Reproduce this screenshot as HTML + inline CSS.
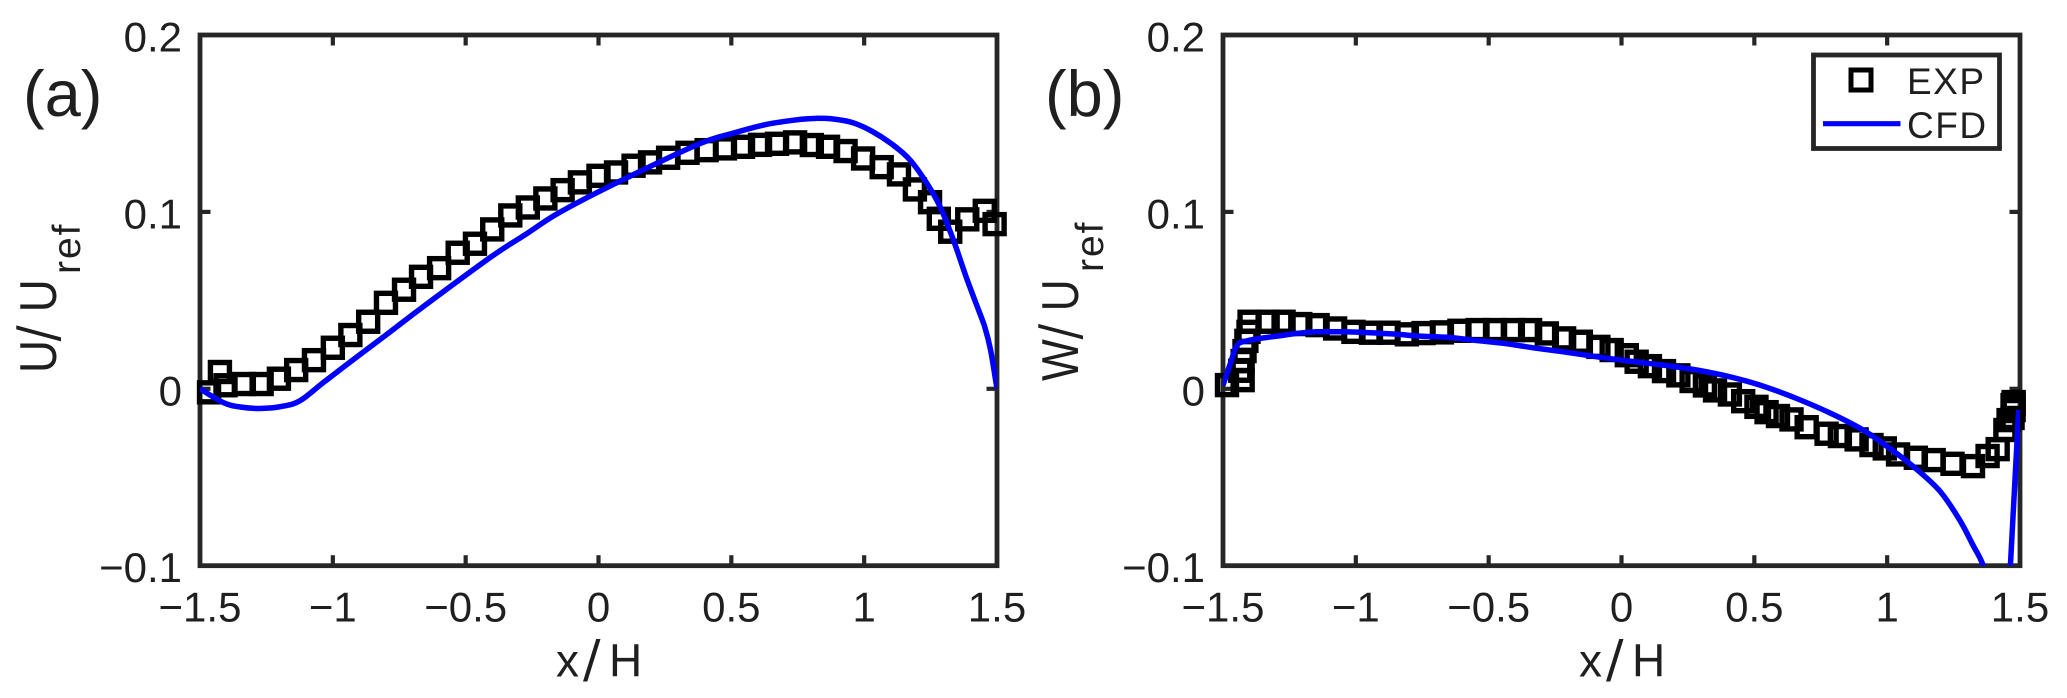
<!DOCTYPE html>
<html lang="en">
<head>
<meta charset="utf-8">
<title>U/Uref and W/Uref profiles: EXP vs CFD</title>
<style>
  html, body { margin: 0; padding: 0; background: #fff; }
  svg { display: block; }
  text { font-family: "Liberation Sans", Arial, sans-serif; fill: #1f1f1f; }
  .slash { font-family: "DejaVu Sans", sans-serif; }
</style>
</head>
<body>
<svg id="chart" xmlns="http://www.w3.org/2000/svg" width="2067" height="698" viewBox="0 0 2067 698">
  <rect x="0" y="0" width="2067" height="698" fill="#fff"/>
  <defs>
    <clipPath id="clip-a"><rect x="200" y="35" width="797" height="530.7"/></clipPath>
    <clipPath id="clip-b"><rect x="1223" y="35" width="797" height="530.7"/></clipPath>
  </defs>

  <text x="23" y="116" font-size="65">(a)</text>
  <text x="1045" y="116" font-size="65">(b)</text>

  <text y="676.5" font-size="46"><tspan x="556">x</tspan><tspan class="slash" x="583" font-size="52">/</tspan><tspan x="609">H</tspan></text>
  <text y="676.5" font-size="46"><tspan x="1579">x</tspan><tspan class="slash" x="1606" font-size="52">/</tspan><tspan x="1632">H</tspan></text>

  <g>
    <text transform="translate(56,373) rotate(-90) scale(.88,1)" font-size="52" y="0"><tspan x="0">U</tspan><tspan class="slash" x="36" font-size="54">/</tspan><tspan x="69">U</tspan></text>
    <text transform="translate(80,274) rotate(-90)" font-size="39" letter-spacing="2" x="0" y="0">ref</text>
  </g>
  <g>
    <text transform="translate(1078,381) rotate(-90) scale(.85,1)" font-size="52" y="0"><tspan x="0">W</tspan><tspan class="slash" x="49" font-size="54">/</tspan><tspan x="82">U</tspan></text>
    <text transform="translate(1103,272) rotate(-90)" font-size="39" letter-spacing="2" x="0" y="0">ref</text>
  </g>

  <g id="panel-a"></g>
  <g id="panel-b"></g>

  <g>
    <rect x="1813.5" y="55" width="186" height="93.5" fill="#fff" stroke="#262626" stroke-width="4.8"/>
    <rect x="1851" y="70" width="20" height="20" fill="none" stroke="#000" stroke-width="5"/>
    <line x1="1823" y1="123.7" x2="1900.5" y2="123.7" stroke="#0000ff" stroke-width="5.2"/>
    <text x="1907" y="94" font-size="37" letter-spacing="1.5">EXP</text>
    <text x="1907" y="138" font-size="37" letter-spacing="1.5">CFD</text>
  </g>
</svg>

<script>
var xTicks = [-1.5, -1, -0.5, 0, 0.5, 1, 1.5];
var xTickLabels = ["\u22121.5", "\u22121", "\u22120.5", "0", "0.5", "1", "1.5"];
var yTicks = [-0.1, 0, 0.1, 0.2];
var yTickLabels = ["\u22120.1", "0", "0.1", "0.2"];

var aExpX = [-1.466,-1.425,-1.404,-1.335,-1.268,-1.203,-1.138,-1.071,-1.0,-0.934,-0.867,-0.8,-0.732,-0.668,-0.6,-0.53,-0.465,-0.4,-0.332,-0.266,-0.2,-0.135,-0.07,0,0.066,0.132,0.194,0.262,0.335,0.407,0.476,0.544,0.608,0.672,0.74,0.803,0.864,0.93,0.996,1.066,1.131,1.191,1.248,1.281,1.324,1.388,1.454,1.491];
var aExpU = [-0.002,0.0095,0.002,0.0027,0.0027,0.0057,0.0106,0.0162,0.0232,0.0304,0.0379,0.0486,0.056,0.0633,0.0682,0.0769,0.082,0.0901,0.098,0.1025,0.1076,0.1123,0.1167,0.1204,0.1223,0.1261,0.128,0.1306,0.1334,0.1349,0.1359,0.1368,0.1379,0.1385,0.1393,0.1378,0.1368,0.1344,0.1302,0.1253,0.1212,0.1127,0.1055,0.0961,0.0888,0.0958,0.1006,0.0931];
var aCfdX = [-1.5,-1.412,-1.348,-1.266,-1.186,-1.122,-1.036,-0.909,-0.784,-0.66,-0.404,-0.278,-0.152,0.05,0.369,0.507,0.634,0.759,0.822,0.883,0.958,1.033,1.109,1.173,1.236,1.286,1.336,1.386,1.442,1.455,1.476,1.5];
var aCfdU = [0,-0.0078,-0.0103,-0.0111,-0.0098,-0.0066,0.0035,0.0181,0.0322,0.0464,0.0746,0.0869,0.0992,0.1151,0.1378,0.1445,0.1495,0.1523,0.1529,0.1525,0.1504,0.1453,0.1378,0.1293,0.1161,0.1029,0.0841,0.0624,0.04,0.0345,0.0219,0];

var bExpX = [-1.485,-1.426,-1.435,-1.426,-1.419,-1.412,-1.404,-1.4,-1.332,-1.272,-1.209,-1.144,-1.078,-1.009,-0.943,-0.877,-0.808,-0.745,-0.676,-0.61,-0.542,-0.476,-0.409,-0.344,-0.281,-0.216,-0.153,-0.087,-0.037,0.02,0.057,0.107,0.16,0.214,0.264,0.314,0.352,0.408,0.458,0.508,0.546,0.589,0.64,0.697,0.772,0.822,0.885,0.941,0.991,1.041,1.108,1.175,1.246,1.323,1.378,1.416,1.445,1.457,1.472,1.476,1.476,1.476,1.472];
var bExpW = [0.0021,0.0049,0.0102,0.0157,0.0213,0.0271,0.0322,0.0379,0.0379,0.0379,0.0366,0.036,0.0341,0.0322,0.0317,0.0317,0.0308,0.0315,0.0319,0.0328,0.0332,0.0332,0.0332,0.0332,0.0313,0.0285,0.0266,0.0237,0.0219,0.019,0.0153,0.0128,0.01,0.0076,0.0044,0.0019,-0.0009,-0.0032,-0.007,-0.0102,-0.0132,-0.0154,-0.0173,-0.0217,-0.0254,-0.0267,-0.0286,-0.0318,-0.0337,-0.0371,-0.039,-0.0403,-0.0424,-0.0437,-0.038,-0.0341,-0.0233,-0.0177,-0.0092,-0.0085,-0.0075,-0.012,-0.0165];
var bCfdX = [-1.5,-1.472,-1.447,-1.41,-1.36,-1.297,-1.221,-1.146,-1.046,-0.946,-0.845,-0.758,-0.657,-0.557,-0.445,-0.332,-0.219,-0.093,0.026,0.157,0.283,0.408,0.533,0.659,0.784,0.909,1.01,1.11,1.198,1.273,1.323,1.361,1.4,1.44,1.464,1.495];
var bCfdW = [0.002,0.0144,0.0247,0.0271,0.0285,0.0298,0.0313,0.0322,0.0322,0.0317,0.0308,0.0298,0.0291,0.0275,0.0257,0.0232,0.0209,0.0181,0.0157,0.0134,0.0106,0.0068,0.0015,-0.0055,-0.0136,-0.0233,-0.0337,-0.0454,-0.0578,-0.0742,-0.0884,-0.0997,-0.12,-0.17,-0.1,-0.012];

var SVG_NS = "http://www.w3.org/2000/svg";
var AXIS_COLOR = "#262626";

function makeEl(tag, attrs, parent) {
  var el = document.createElementNS(SVG_NS, tag);
  Object.keys(attrs).forEach(function (k) { el.setAttribute(k, attrs[k]); });
  parent.appendChild(el);
  return el;
}

function smoothPath(px, py) {
  var d = "M" + px[0].toFixed(1) + " " + py[0].toFixed(1);
  for (var i = 0; i < px.length - 1; i++) {
    var a = Math.max(i - 1, 0), b = Math.min(i + 2, px.length - 1);
    var c1x = px[i] + (px[i + 1] - px[a]) / 6, c1y = py[i] + (py[i + 1] - py[a]) / 6;
    var c2x = px[i + 1] - (px[b] - px[i]) / 6, c2y = py[i + 1] - (py[b] - py[i]) / 6;
    d += "C" + c1x.toFixed(1) + " " + c1y.toFixed(1) + " " + c2x.toFixed(1) + " " + c2y.toFixed(1) + " " + px[i + 1].toFixed(1) + " " + py[i + 1].toFixed(1);
  }
  return d;
}

function drawPanel(groupId, left, right, clipId, expX, expY, cfdX, cfdY, yLabelAnchor) {
  var g = document.getElementById(groupId);
  var top = 35, bottom = 565.7;
  function sx(v) { return left + (v + 1.5) / 3 * (right - left); }
  function sy(v) { return bottom - (v + 0.1) / 0.3 * (bottom - top); }

  var frame = makeEl("rect", { x: left, y: top, width: right - left, height: bottom - top, fill: "none", stroke: AXIS_COLOR, "stroke-width": 4.8 }, g);
  
  

  xTicks.forEach(function (t, i) {
    var x = sx(t);
    if (i > 0 && i < xTicks.length - 1) {
      var tickBottom = makeEl("line", { x1: x, x2: x, y1: bottom, y2: bottom - 10.5, stroke: AXIS_COLOR, "stroke-width": 4.2 }, g);
      
      
      var tickTop = makeEl("line", { x1: x, x2: x, y1: top, y2: top + 10.5, stroke: AXIS_COLOR, "stroke-width": 4.2 }, g);
      
      
    }
    var xLabel = makeEl("text", { x: x, y: 621.7, "font-size": 42, "text-anchor": "middle" }, g);
    
    
    xLabel.textContent = xTickLabels[i];
  });

  yTicks.forEach(function (t, i) {
    var y = sy(t);
    if (i > 0 && i < yTicks.length - 1) {
      var tickLeft = makeEl("line", { x1: left, x2: left + 10.5, y1: y, y2: y, stroke: AXIS_COLOR, "stroke-width": 4.2 }, g);
      
      
      var tickRight = makeEl("line", { x1: right, x2: right - 10.5, y1: y, y2: y, stroke: AXIS_COLOR, "stroke-width": 4.2 }, g);
      
      
    }
    var yLabel = makeEl("text", { x: yLabelAnchor, y: y + 16.5, "font-size": 42, "text-anchor": "end" }, g);
    
    
    yLabel.textContent = yTickLabels[i];
  });

  var size = 19;
  expX.forEach(function (v, i) {
    var m = makeEl("rect", { x: sx(v) - size / 2, y: sy(expY[i]) - size / 2, width: size, height: size, fill: "none", stroke: "#000", "stroke-width": 5.4 }, g);
    
    
  });

  var d = smoothPath(cfdX.map(sx), cfdY.map(sy));
  var line = makeEl("path", { d: d, fill: "none", stroke: "#0000ff", "stroke-width": 5.5, "stroke-linejoin": "round", "clip-path": "url(#" + clipId + ")" }, g);
  
  
}

drawPanel("panel-a", 200, 997, "clip-a", aExpX, aExpU, aCfdX, aCfdU, 182);
drawPanel("panel-b", 1223, 2020, "clip-b", bExpX, bExpW, bCfdX, bCfdW, 1205);
</script>
</body>
</html>
